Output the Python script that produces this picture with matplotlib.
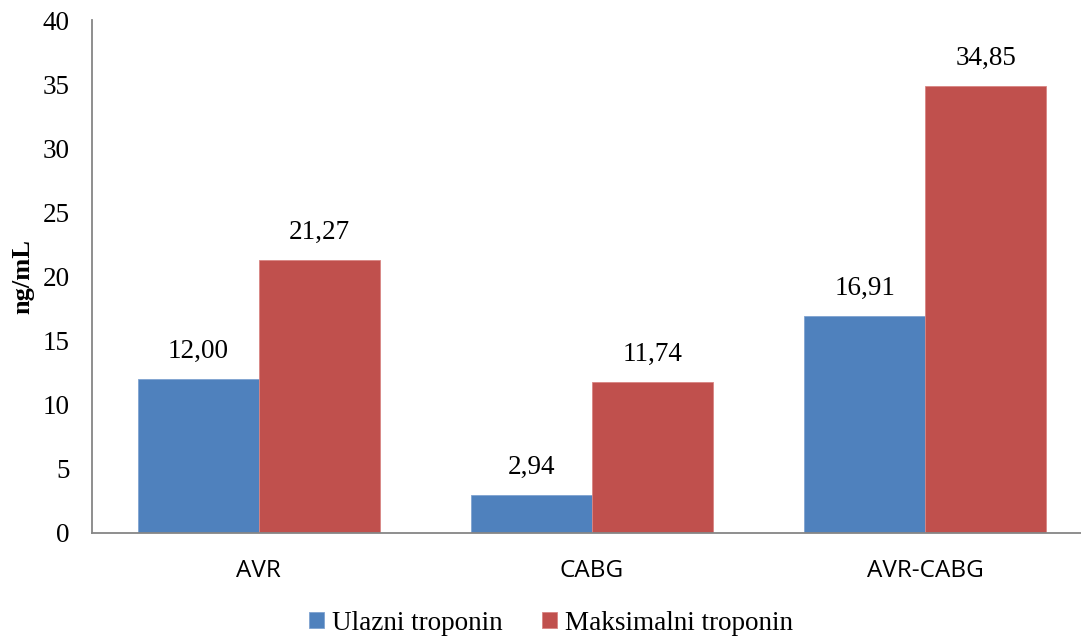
import matplotlib
matplotlib.use("Agg")
import matplotlib.pyplot as plt
import numpy as np

categories = ["AVR", "CABG", "AVR-CABG"]
ulazni = [12.00, 2.94, 16.91]
maksimalni = [21.27, 11.74, 34.85]
series_names = ["Ulazni troponin", "Maksimalni troponin"]
yticks = [0, 5, 10, 15, 20, 25, 30, 35, 40]

W, H = 1081, 638
fig = plt.figure(figsize=(W / 100, H / 100), dpi=100)
left, right, top, bottom = 92, 1092, 20, 533
ax = fig.add_axes([left / W, 1 - bottom / H, (right - left) / W, (bottom - top) / H])

x = np.arange(len(categories))
bw = 0.3635
b1 = ax.bar(x - bw / 2, ulazni, bw, color="#4F81BD", edgecolor="#7FA3D1", linewidth=0.6, label=series_names[0])
b2 = ax.bar(x + bw / 2, maksimalni, bw, color="#C0504D", edgecolor="#D98583", linewidth=0.6, label=series_names[1])

serif = "Liberation Serif"
FS = 19.5
for bars, vals in ((b1, ulazni), (b2, maksimalni)):
    for r, v in zip(bars, vals):
        ax.annotate(f"{v:.2f}".replace(".", ","), (r.get_x() + r.get_width() / 2, v),
                    xytext=(0, 11), textcoords="offset points", ha="center", va="bottom",
                    fontsize=FS, family=serif)

ax.set_xlim(-0.5, 2.5)
ax.set_ylim(0, 40)
ax.set_yticks(yticks)
ax.set_yticklabels([str(t) for t in yticks], fontsize=FS, family=serif)
ax.set_xticks(x)
ax.set_xticklabels(categories, fontsize=17.5, family="Open Sans")
ax.tick_params(axis="both", length=0)
ax.tick_params(axis="y", pad=16)
ax.tick_params(axis="x", pad=19)
for s in ("top", "right"):
    ax.spines[s].set_visible(False)
for s in ("left", "bottom"):
    ax.spines[s].set_color("#868686")
    ax.spines[s].set_linewidth(1.3)

fig.text(23 / W, 1 - 276 / H, "ng/mL", rotation=90, ha="center", va="center",
         fontsize=19, fontweight="bold", family=serif)

leg = fig.legend(handles=[b1, b2], labels=series_names, loc="center", bbox_to_anchor=(551 / W, 1 - 623 / H),
                 ncol=2, frameon=False, prop={"family": serif, "size": FS},
                 handlelength=0.55, handleheight=0.55, handletextpad=0.3, columnspacing=1.45)

fig.savefig("out.png", dpi=100)
